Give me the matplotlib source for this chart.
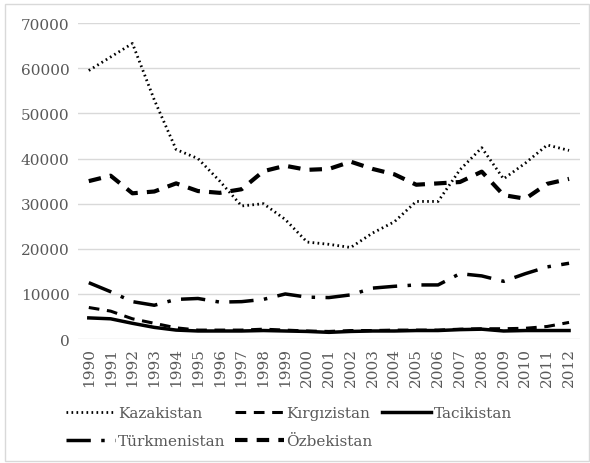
import matplotlib.pyplot as plt
from matplotlib.patches import Rectangle

years = [str(y) for y in range(1990, 2013)]

kazakistan = [59500, 62500, 65500, 53000, 42000, 40000, 35000, 29500, 30000, 26500,
              21500, 21000, 20300, 23500, 26000, 30500, 30500, 37500, 42400, 35500,
              39000, 43000, 41800]
kirgizistan = [7000, 6200, 4500, 3500, 2500, 2000, 2000, 2000, 2200, 2000,
               1800, 1700, 1900, 1900, 2000, 2000, 2000, 2200, 2300, 2300,
               2400, 2800, 3700]
tacikistan = [4700, 4500, 3500, 2600, 2000, 1800, 1800, 1800, 1900, 1800,
              1700, 1500, 1700, 1800, 1800, 1900, 1900, 2100, 2200, 1800,
              1900, 1900, 1900]
turkmenistan = [12500, 10500, 8300, 7500, 8800, 9000, 8200, 8300, 8800, 10000,
                9300, 9200, 9800, 11300, 11700, 12000, 12000, 14500, 14000, 12800,
                14500, 16000, 16800]
ozbekistan = [35000, 36200, 32300, 32700, 34500, 32800, 32400, 33200, 37200, 38400,
              37500, 37700, 39300, 37700, 36500, 34200, 34500, 34800, 37100, 31900,
              31100, 34400, 35500]

yticks = [0, 10000, 20000, 30000, 40000, 50000, 60000, 70000]

plt.rcParams['font.family'] = 'DejaVu Serif'
grey = '#595959'

fig = plt.figure(figsize=(5.9, 4.64), dpi=100)
ax = fig.add_axes([0.132, 0.267, 0.851, 0.681])

x = range(len(years))
l1, = ax.plot(x, kazakistan, color='black', lw=2, linestyle=(0, (0.6, 1.2)), label='Kazakistan')
l2, = ax.plot(x, kirgizistan, color='black', lw=2.2, linestyle=(0, (3.5, 2.5)), label='Kırgızistan')
l3, = ax.plot(x, tacikistan, color='black', lw=2.5, linestyle='-', label='Tacikistan')
l4, = ax.plot(x, turkmenistan, color='black', lw=2.5, linestyle=(0, (7, 3, 1, 3)), label='Türkmenistan')
l5, = ax.plot(x, ozbekistan, color='black', lw=3, linestyle=(0, (3, 2.2)), label='Özbekistan')

ax.set_xlim(-0.5, len(years) - 0.5)
ax.set_ylim(0, 70000)
ax.set_yticks(yticks)
ax.set_yticklabels([str(v) for v in yticks])
ax.set_xticks(list(x))
ax.set_xticklabels(years, rotation=90)
ax.tick_params(axis='both', length=0, labelsize=11, colors=grey, pad=6)
ax.grid(axis='y', color='#d9d9d9', lw=1)
ax.set_axisbelow(True)
for s in ax.spines.values():
    s.set_visible(False)

# legend fills column-wise, so order handles to read row-wise
handles = [l1, l4, l2, l5, l3]
fig.legend(handles, [h.get_label() for h in handles], loc='lower center', ncol=3,
           bbox_to_anchor=(0.49, 0.003), frameon=False,
           fontsize=11, handlelength=3.2, columnspacing=0.6, handletextpad=0.2,
           labelcolor=grey, labelspacing=0.9)

fig.patches.append(Rectangle((0.008, 0.005), 0.99, 0.985, transform=fig.transFigure,
                             fill=False, edgecolor='#d9d9d9', lw=1))

fig.savefig('out.png', dpi=100)
